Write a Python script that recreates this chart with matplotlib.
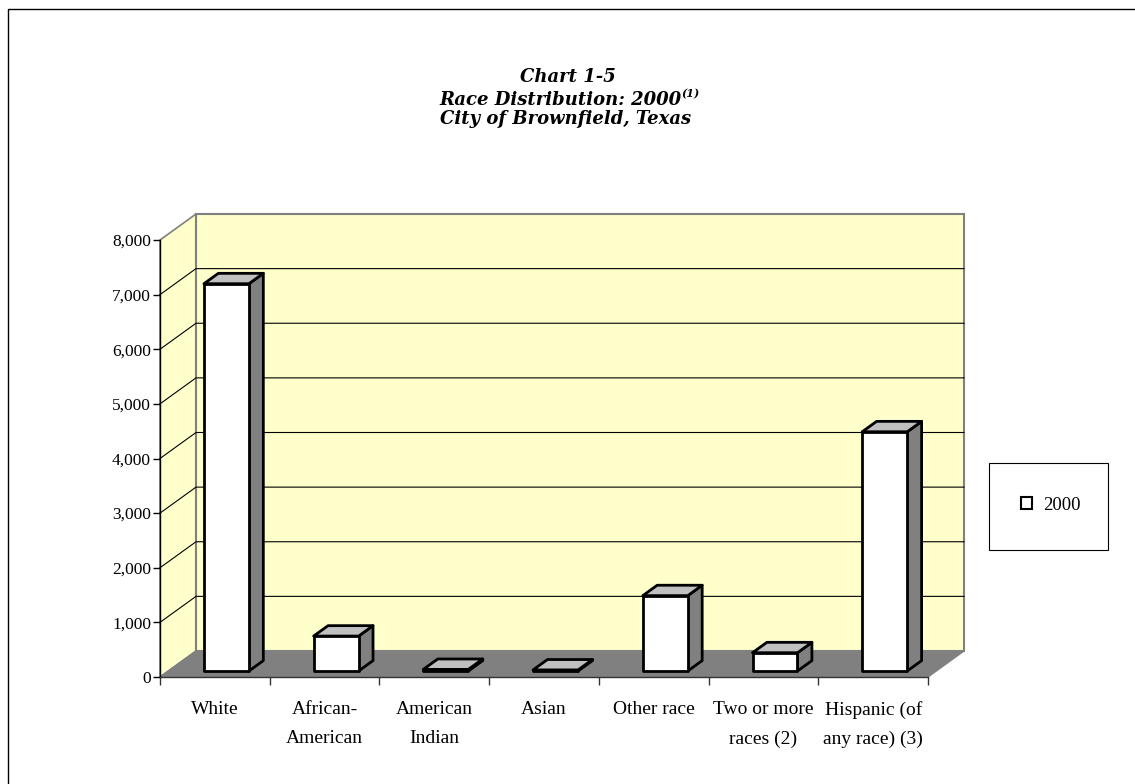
import numpy as np
import matplotlib
matplotlib.use('Agg')
import matplotlib.pyplot as plt
import matplotlib.transforms as mtransforms
from matplotlib.patches import Polygon, Rectangle, Patch

# Chart data
categories = ['White', 'African-\nAmerican', 'American\nIndian', 'Asian',
              'Other race', 'Two or more\nraces (2)', 'Hispanic (of\nany race) (3)']
values_2000 = [7090, 640, 30, 20, 1380, 335, 4380]
y_ticks = [0, 1000, 2000, 3000, 4000, 5000, 6000, 7000, 8000]
series_name = '2000'

W, H = 1135, 784
fig = plt.figure(figsize=(W / 100, H / 100), dpi=100)
fig.patch.set_facecolor('white')

# front plane of the 3D box, in pixels
left, right, bottom, top = 160, 928, 677, 240
ax = fig.add_axes([left / W, 1 - bottom / H, (right - left) / W, (bottom - top) / H])
ax.set_xlim(-0.5, len(categories) - 0.5)
ax.set_ylim(0, 8000)
ax.patch.set_visible(False)
for s in ['top', 'right']:
    ax.spines[s].set_visible(False)
ax.spines['left'].set_linewidth(1.0)
ax.spines['bottom'].set_linewidth(1.0)
ax.spines['bottom'].set_color('#333333')

DX, DY = 36.0, 26.0  # depth vector in pixels
ident = mtransforms.IdentityTransform()


def proj(x, v, d):
    p = ax.transData.transform((x, v))
    return (p[0] + d * DX, p[1] + d * DY)


def poly(pts, **kw):
    ax.add_patch(Polygon(pts, closed=True, transform=ident, clip_on=False, **kw))


x0, x1 = -0.5, len(categories) - 0.5
ymax = y_ticks[-1]
wall = '#ffffcc'
edge = '#808080'

# left wall, back wall, floor
poly([proj(x0, 0, 0), proj(x0, 0, 1), proj(x0, ymax, 1), proj(x0, ymax, 0)],
     facecolor=wall, edgecolor=edge, lw=1.2, zorder=0)
poly([proj(x0, 0, 1), proj(x1, 0, 1), proj(x1, ymax, 1), proj(x0, ymax, 1)],
     facecolor=wall, edgecolor=edge, lw=1.5, zorder=0)
poly([proj(x0, 0, 0), proj(x1, 0, 0), proj(x1, 0, 1), proj(x0, 0, 1)],
     facecolor='#808080', edgecolor='#808080', lw=1, zorder=1)

# gridlines
for v in y_ticks[1:-1]:
    a, b, c = proj(x0, v, 0), proj(x0, v, 1), proj(x1, v, 1)
    ax.add_line(plt.Line2D([a[0], b[0], c[0]], [a[1], b[1], c[1]], transform=ident,
                           color='black', lw=0.8, clip_on=False, zorder=0.5))

# bars
off, hw = 0.03, 0.205
d0, d1 = 0.23, 0.63
for i, v in enumerate(values_2000):
    xl, xr = i + off - hw, i + off + hw
    side = [proj(xr, 0, d0), proj(xr, 0, d1), proj(xr, v, d1), proj(xr, v, d0)]
    topf = [proj(xl, v, d0), proj(xr, v, d0), proj(xr, v, d1), proj(xl, v, d1)]
    front = [proj(xl, 0, d0), proj(xr, 0, d0), proj(xr, v, d0), proj(xl, v, d0)]
    poly(side, facecolor='#808080', edgecolor='black', lw=2, joinstyle='round', zorder=3)
    poly(topf, facecolor='#c0c0c0', edgecolor='black', lw=2, joinstyle='round', zorder=3)
    poly(front, facecolor='white', edgecolor='black', lw=2, joinstyle='round', zorder=3)

# axis ticks and labels
ax.set_yticks(y_ticks)
ax.set_yticklabels([f'{t:,}' for t in y_ticks])
ax.tick_params(axis='y', length=5, width=1, pad=1.5, labelsize=12.5)
ax.set_xticks(range(len(categories)))
ax.set_xticklabels(categories, linespacing=1.95)
ax.set_xticks(np.arange(-0.5, len(categories), 1), minor=True)
ax.tick_params(axis='x', which='major', length=0, pad=17, labelsize=14)
ax.tick_params(axis='x', which='minor', length=6, width=1, color='#333333')
for lab in ax.get_xticklabels() + ax.get_yticklabels():
    lab.set_fontfamily('Liberation Serif')

# title
tfont = dict(family='DejaVu Serif', weight='bold', style='italic', fontsize=13)
fig.text(568 / W, 1 - 77 / H, 'Chart 1-5', ha='center', va='center', **tfont)
t2 = fig.text(560 / W, 1 - 100 / H, 'Race Distribution: 2000', ha='center', va='center', **tfont)
fig.text(566 / W, 1 - 119 / H, 'City of Brownfield, Texas', ha='center', va='center', **tfont)
fig.canvas.draw()
bb = t2.get_window_extent()
fig.text(bb.x1 / W, 1 - 94 / H, '(1)', ha='left', va='center',
         family='DejaVu Serif', weight='bold', style='italic', fontsize=8)

# legend box
fig.add_artist(Rectangle((989 / W, 1 - 550 / H), 119 / W, 87 / H, transform=fig.transFigure,
                         facecolor='white', edgecolor='black', lw=0.8))
leg = fig.legend(handles=[Patch(facecolor='white', edgecolor='black', lw=1.5, label=series_name)],
                 loc='center', bbox_to_anchor=(1051 / W, 1 - 505 / H), frameon=False,
                 handlelength=0.6, handleheight=0.6, handletextpad=0.6,
                 prop={'family': 'Liberation Serif', 'size': 13.5})

# outer frame
fig.add_artist(Rectangle((8 / W, -0.05), 1.2, 1 - 9 / H + 0.05, transform=fig.transFigure,
                         facecolor='none', edgecolor='black', lw=1))

plt.savefig('out.png', dpi=100)
